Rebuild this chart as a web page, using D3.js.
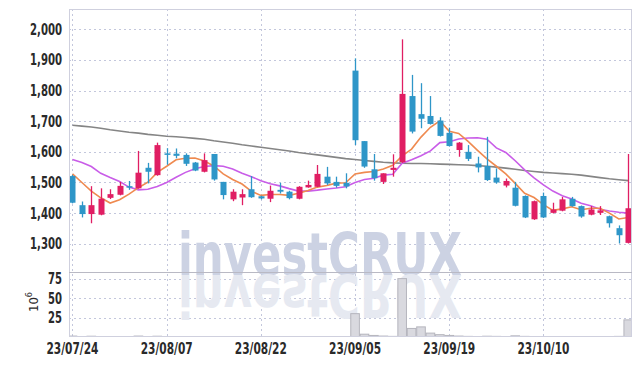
<!DOCTYPE html>
<meta charset="utf-8">
<script src="https://d3js.org/d3.v7.min.js"></script>
<style>
  body { margin: 0; background: #fff; }
  svg { display: block; }
  .lbl { font-family: "DejaVu Sans Condensed", "DejaVu Sans", sans-serif; font-weight: bold; fill: #2a2a2a; }
</style>
<div id="chart"></div>
<script>
// trading days shown
var dates = ["23/07/24","23/07/25","23/07/26","23/07/27","23/07/28","23/07/31","23/08/01","23/08/02","23/08/03","23/08/04",
  "23/08/07","23/08/08","23/08/09","23/08/10","23/08/11","23/08/14","23/08/16","23/08/17","23/08/18","23/08/21",
  "23/08/22","23/08/23","23/08/24","23/08/25","23/08/28","23/08/29","23/08/30","23/08/31","23/09/01","23/09/04",
  "23/09/05","23/09/06","23/09/07","23/09/08","23/09/11","23/09/12","23/09/13","23/09/14","23/09/15","23/09/18",
  "23/09/19","23/09/20","23/09/21","23/09/22","23/09/25","23/09/26","23/09/27","23/10/04","23/10/05","23/10/06",
  "23/10/10","23/10/11","23/10/12","23/10/13","23/10/16","23/10/17","23/10/18","23/10/19","23/10/20","23/10/23"];

var open  = [1521,1426,1397,1395,1450,1460,1488,1481,1548,1524, 1595,1594,1590,1565,1535,1593,1502,1445,1451,1478,
             1455,1447,1476,1470,1447,1484,1486,1519,1502,1499, 1865,1635,1543,1502,1541,1566,1782,1723,1717,1702,
             1662,1606,1600,1562,1554,1516,1490,1483,1456,1380, 1456,1401,1408,1447,1423,1395,1401,1390,1351,1303];
var high  = [1525,1438,1488,1481,1478,1502,1505,1603,1564,1630, 1612,1611,1595,1567,1595,1593,1502,1478,1478,1521,
             1457,1490,1499,1473,1488,1506,1557,1551,1519,1530, 1905,1635,1593,1530,1592,1967,1851,1824,1782,1713,
             1679,1632,1622,1584,1649,1546,1513,1502,1458,1441, 1467,1434,1453,1453,1425,1423,1423,1392,1360,1593];
var low   = [1432,1386,1367,1393,1446,1458,1476,1480,1497,1522, 1558,1579,1554,1537,1533,1506,1445,1439,1426,1450,
             1445,1436,1464,1445,1445,1483,1485,1492,1483,1481, 1622,1548,1506,1495,1519,1564,1660,1677,1689,1650,
             1617,1584,1570,1533,1505,1496,1484,1422,1384,1378, 1384,1399,1406,1421,1385,1393,1394,1353,1301,1301];
var close = [1434,1397,1426,1447,1462,1489,1485,1532,1535,1622, 1592,1587,1561,1539,1573,1510,1459,1470,1462,1452,
             1448,1473,1470,1449,1486,1492,1528,1497,1489,1487, 1638,1552,1514,1530,1548,1789,1666,1708,1691,1652,
             1619,1630,1577,1549,1508,1500,1505,1424,1386,1439, 1386,1412,1445,1423,1389,1412,1409,1367,1328,1416];

// volume in millions
var volume = [1.2,0.6,1.0,0.6,0.5,0.4,0.4,1.2,0.5,1.0, 0.4,0.5,0.4,0.3,0.4,0.5,0.4,0.3,0.3,0.3,
              0.4,0.3,0.3,0.3,0.4,0.3,0.5,0.4,0.3,0.4, 30,3.6,2.0,1.2,0.8,75,11,13,5,3,
              2.0,1.2,0.8,0.6,1.0,0.8,0.6,1.5,0.8,0.6, 0.5,0.4,0.5,0.4,0.5,0.4,0.5,0.6,0.8,22];

// moving averages
var ma5   = [1528,1500,1472,1450,1433,1444,1462,1483,1501,1533, 1553,1574,1579,1580,1570,1554,1528,1510,1495,1471,
             1458,1461,1461,1458,1465,1474,1485,1490,1498,1499, 1528,1533,1536,1544,1556,1587,1609,1648,1680,1701,
             1667,1660,1634,1605,1577,1553,1528,1497,1465,1451, 1428,1409,1414,1421,1411,1416,1416,1400,1381,1386];
var ma20  = [1575,1565,1552,1530,1516,1503,1485,1476,1478,1487, 1500,1517,1533,1545,1552,1555,1553,1544,1530,1519,
             1506,1496,1489,1480,1472,1472,1475,1479,1482,1486, 1500,1510,1514,1524,1527,1563,1574,1587,1603,1630,
             1633,1642,1645,1646,1641,1613,1598,1571,1541,1515, 1492,1472,1457,1446,1432,1424,1413,1407,1403,1400];
var ma120 = [1687,1684,1681,1677,1672,1668,1664,1661,1657,1654, 1651,1649,1647,1644,1641,1636,1632,1628,1623,1619,
             1615,1611,1607,1603,1598,1594,1590,1586,1582,1578, 1575,1572,1569,1566,1564,1563,1562,1562,1561,1560,
             1559,1558,1557,1555,1553,1550,1547,1543,1539,1536, 1533,1531,1529,1527,1524,1520,1516,1512,1509,1506];

var priceTicks = [1300,1400,1500,1600,1700,1800,1900,2000];
var volTicks = [25,50,75];
var dateTicks = ["23/07/24","23/08/07","23/08/22","23/09/05","23/09/19","23/10/10"];

var width = 642, height = 366;
var pLeft = 69, pRight = 632, pTop = 9, pMid = 272, pBottom = 337;

var svg = d3.select("#chart").append("svg")
  .attr("width", width)
  .attr("height", height);

var x = d3.scaleLinear().domain([-0.37, 59.4]).range([pLeft, pRight]);
var y = d3.scaleLinear().domain([1208, 2066]).range([pMid, pTop]);
var yv = d3.scaleLinear().domain([0, 83.5]).range([pBottom, pMid]);

var idx = d3.range(dates.length);

svg.append("clipPath").attr("id", "clipP")
  .append("rect").attr("x", pLeft).attr("y", pTop).attr("width", pRight - pLeft).attr("height", pMid - pTop);
svg.append("clipPath").attr("id", "clipV")
  .append("rect").attr("x", pLeft).attr("y", pMid).attr("width", pRight - pLeft).attr("height", pBottom - pMid);

// gridlines
var grid = svg.append("g").attr("stroke", "#c3c7dc").attr("stroke-dasharray", "2,3").attr("stroke-width", 1);
grid.selectAll(".hp").data(priceTicks).enter().append("line")
  .attr("x1", pLeft).attr("x2", pRight)
  .attr("y1", function (d) { return Math.round(y(d)) + 0.5; })
  .attr("y2", function (d) { return Math.round(y(d)) + 0.5; });
grid.selectAll(".hv").data(volTicks).enter().append("line")
  .attr("x1", pLeft).attr("x2", pRight)
  .attr("y1", function (d) { return Math.round(yv(d)) + 0.5; })
  .attr("y2", function (d) { return Math.round(yv(d)) + 0.5; });
grid.selectAll(".vx").data(dateTicks).enter().append("line")
  .attr("x1", function (d) { return Math.round(x(dates.indexOf(d))) + 0.5; })
  .attr("x2", function (d) { return Math.round(x(dates.indexOf(d))) + 0.5; })
  .attr("y1", pTop).attr("y2", pBottom);

// watermark with reflection
var wm = svg.append("g");
wm.append("text")
  .attr("x", 178).attr("y", 275)
  .attr("textLength", 284).attr("lengthAdjust", "spacingAndGlyphs")
  .style("font-family", "DejaVu Sans").style("font-weight", "bold").style("font-size", "58px")
  .style("fill", "#ccd2e3")
  .text("investCRUX");
wm.append("text")
  .attr("x", 178).attr("y", 275)
  .attr("transform", "translate(0,550) scale(1,-1)")
  .attr("textLength", 284).attr("lengthAdjust", "spacingAndGlyphs")
  .style("font-family", "DejaVu Sans").style("font-weight", "bold").style("font-size", "58px")
  .style("fill", "#e6e9f1")
  .text("investCRUX");

// volume bars
svg.append("g").attr("clip-path", "url(#clipV)")
  .selectAll("rect").data(idx).enter().append("rect")
  .attr("x", function (i) { return x(i) - 4.3; })
  .attr("width", 8.6)
  .attr("y", function (i) { return yv(volume[i]); })
  .attr("height", function (i) { return pBottom - yv(volume[i]); })
  .attr("fill", "#d9d9df")
  .attr("stroke", "#b5b5bd")
  .attr("stroke-width", 1);

// moving averages
var line = function (arr) {
  return d3.line().x(function (i) { return x(i); }).y(function (i) { return y(arr[i]); })(idx);
};
var maG = svg.append("g").attr("clip-path", "url(#clipP)").attr("fill", "none");
maG.append("path").attr("d", line(ma120)).attr("stroke", "#858585").attr("stroke-width", 1.6);
maG.append("path").attr("d", line(ma20)).attr("stroke", "#c95de8").attr("stroke-width", 1.6);
maG.append("path").attr("d", line(ma5)).attr("stroke", "#ef8a50").attr("stroke-width", 1.6);

// candles
var up = "#e01e63", down = "#2e96c8";
var cg = svg.append("g").attr("clip-path", "url(#clipP)");
var candle = cg.selectAll("g").data(idx).enter().append("g");
candle.append("line")
  .attr("x1", function (i) { return Math.round(x(i)) + 0.5; })
  .attr("x2", function (i) { return Math.round(x(i)) + 0.5; })
  .attr("y1", function (i) { return y(high[i]); })
  .attr("y2", function (i) { return y(low[i]); })
  .attr("stroke", function (i) { return close[i] >= open[i] ? up : down; })
  .attr("stroke-width", 1.3);
candle.append("rect")
  .attr("x", function (i) { return Math.round(x(i)) - 2.5; })
  .attr("width", 6)
  .attr("y", function (i) { return y(Math.max(open[i], close[i])); })
  .attr("height", function (i) { return Math.max(1.5, Math.abs(y(open[i]) - y(close[i]))); })
  .attr("fill", function (i) { return close[i] >= open[i] ? up : down; });

// frame
var fr = svg.append("g").attr("fill", "none");
fr.append("rect").attr("x", pLeft + 0.5).attr("y", pTop + 0.5)
  .attr("width", pRight - pLeft - 1).attr("height", pBottom - pTop - 1)
  .attr("stroke", "#cfd0de");
fr.append("line").attr("x1", pLeft).attr("x2", pRight).attr("y1", pMid + 0.5).attr("y2", pMid + 0.5)
  .attr("stroke", "#b9b9c4").attr("stroke-width", 1.2);

// y labels
svg.append("g").selectAll("text").data(priceTicks).enter().append("text")
  .attr("class", "lbl")
  .attr("x", 62).attr("y", function (d) { return y(d) + 5.5; })
  .attr("text-anchor", "end")
  .attr("textLength", 32).attr("lengthAdjust", "spacingAndGlyphs")
  .style("font-size", "15px")
  .text(function (d) { return d3.format(",")(d); });
svg.append("g").selectAll("text").data(volTicks).enter().append("text")
  .attr("class", "lbl")
  .attr("x", 62).attr("y", function (d) { return yv(d) + 5.5; })
  .attr("text-anchor", "end")
  .attr("textLength", 14).attr("lengthAdjust", "spacingAndGlyphs")
  .style("font-size", "15px")
  .text(function (d) { return d; });

// 10^6 unit label
var unit = svg.append("text").attr("class", "lbl")
  .attr("transform", "translate(38,302) rotate(-90)")
  .attr("text-anchor", "middle")
  .style("font-size", "13px").style("font-weight", "normal");
unit.append("tspan").text("10");
unit.append("tspan").attr("dy", -6).style("font-size", "9px").text("6");

// x labels
svg.append("g").selectAll("text").data(dateTicks).enter().append("text")
  .attr("class", "lbl")
  .attr("x", function (d) { return x(dates.indexOf(d)); })
  .attr("y", 354)
  .attr("text-anchor", "middle")
  .attr("textLength", 52).attr("lengthAdjust", "spacingAndGlyphs")
  .style("font-size", "15px")
  .text(function (d) { return d; });
</script>
